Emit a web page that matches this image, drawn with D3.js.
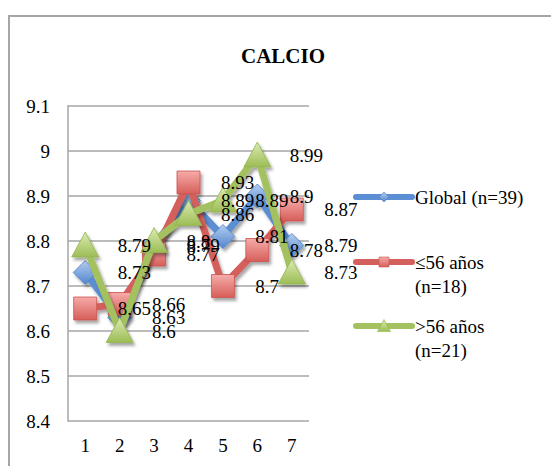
<!DOCTYPE html>
<html><head><meta charset="utf-8">
<script src="https://cdn.jsdelivr.net/npm/d3@7"></script>
</head>
<body style="margin:0;padding:0;background:#fff;">
<script>
const categories = ["1","2","3","4","5","6","7"];
const globalValues = [8.73, 8.63, 8.79, 8.89, 8.81, 8.9, 8.79];
const youngValues  = [8.65, 8.66, 8.77, 8.93, 8.7, 8.78, 8.87];
const oldValues    = [8.79, 8.6, 8.8, 8.86, 8.89, 8.99, 8.73];
const yTicks = [8.4, 8.5, 8.6, 8.7, 8.8, 8.9, 9, 9.1];
const yTickLabels = ["8.4","8.5","8.6","8.7","8.8","8.9","9","9.1"];
const seriesNames = ["Global (n=39)", "≤56 años (n=18)", ">56 años (n=21)"];
const legendLines = [["Global (n=39)"], ["≤56 años", "(n=18)"], [">56 años", "(n=21)"]];
const title = "CALCIO";

const FONT = '"Liberation Serif", "Times New Roman", Tinos, serif';
const W = 551, H = 466;
const svg = d3.select("body").append("svg").attr("width", W).attr("height", H)
  .style("display","block").style("font-family", FONT, "important");
const defs = svg.append("defs");

const styles = [
  {line:"#5B8ED2", top:"#B4CDF0", bot:"#5286CC", stroke:"#4A7EC2", shape:"diamond"},
  {line:"#D3605C", top:"#F6ACA9", bot:"#D65E5A", stroke:"#C9524E", shape:"square"},
  {line:"#A3C25F", top:"#DCEBB3", bot:"#9CBD55", stroke:"#92B44E", shape:"triangle"}
];
styles.forEach((s,i)=>{
  const g = defs.append("linearGradient").attr("id","grad"+i).attr("x1",0).attr("y1",0).attr("x2",0).attr("y2",1);
  g.append("stop").attr("offset","0%").attr("stop-color",s.top);
  g.append("stop").attr("offset","100%").attr("stop-color",s.bot);
});
const f = defs.append("filter").attr("id","shadow").attr("x","-30%").attr("y","-30%").attr("width","180%").attr("height","180%");
f.append("feDropShadow").attr("dx",2).attr("dy",3).attr("stdDeviation",1.8).attr("flood-color","#000").attr("flood-opacity",0.35);

function txt(sel, size, weight){
  return sel.attr("font-family", FONT).style("font-family", FONT, "important")
    .style("font-size", size+"px", "important")
    .style("font-weight", weight||"normal").style("fill","#000");
}

// outer border
svg.append("path").attr("d", `M9,${H+5} L9,16 L${W+5},16`).attr("fill","none").attr("stroke","#a6a6a6").attr("stroke-width",2);

// title
txt(svg.append("text").attr("x",283).attr("y",63).attr("text-anchor","middle"), 21, "bold").text(title);

const plot = {left:68, right:309, top:106, bottom:421};
const x = d3.scaleBand().domain(categories).range([plot.left, plot.right]);
const y = d3.scaleLinear().domain([8.4, 9.1]).range([plot.bottom, plot.top]);
const cx = c => x(c) + x.bandwidth()/2;

// gridlines
svg.append("g").selectAll("line").data(yTicks).join("line")
  .attr("x1",plot.left).attr("x2",plot.right)
  .attr("y1",d=>y(d)).attr("y2",d=>y(d))
  .attr("stroke","#a6a6a6").attr("stroke-width",1.5);
svg.append("line").attr("x1",plot.left).attr("x2",plot.left).attr("y1",plot.top-0.75).attr("y2",plot.bottom+0.75)
  .attr("stroke","#a6a6a6").attr("stroke-width",1.5);

// y axis labels
const yAxis = d3.axisLeft(y).tickValues(yTicks).tickFormat((d,i)=>yTickLabels[i]).tickSize(0).tickPadding(0);
const gy = svg.append("g").attr("transform","translate(50,0)").call(yAxis);
gy.attr("font-family", FONT);
gy.select(".domain").remove();
txt(gy.selectAll("text"), 19).attr("dy","0.36em");

// x axis labels
const xAxis = d3.axisBottom(x).tickSize(0).tickPadding(0);
const gx = svg.append("g").attr("transform","translate(0,438)").call(xAxis);
gx.attr("font-family", FONT);
gx.select(".domain").remove();
txt(gx.selectAll("text"), 19).attr("dy","0.35em").attr("y",7);

const allSeries = [globalValues, youngValues, oldValues];

function markerPath(shape, size){
  const h = size/2;
  if(shape==="square") return `M${-h},${-h}H${h}V${h}H${-h}Z`;
  if(shape==="diamond") return `M0,${-h}L${h},0L0,${h}L${-h},0Z`;
  return `M0,${-h}L${h},${h*0.85}L${-h},${h*0.85}Z`;
}
const markerSize = {square:23, diamond:24, triangle:27};

const line = d3.line().x((d,i)=>cx(categories[i])).y(d=>y(d));
allSeries.forEach((vals,si)=>{
  const s = styles[si];
  const g = svg.append("g").attr("filter","url(#shadow)");
  g.append("path").datum(vals).attr("d",line).attr("fill","none")
    .attr("stroke",s.line).attr("stroke-width",7).attr("stroke-linejoin","round");
  g.selectAll("path.m").data(vals).join("path").attr("class","m")
    .attr("transform",(d,i)=>`translate(${cx(categories[i])},${y(d)})`)
    .attr("d",markerPath(s.shape, markerSize[s.shape]))
    .attr("fill",`url(#grad${si})`).attr("stroke",s.stroke).attr("stroke-width",0.8);
});

// data labels
allSeries.forEach((vals,si)=>{
  txt(svg.append("g").selectAll("text").data(vals).join("text")
    .attr("x",(d,i)=>cx(categories[i]) + x.bandwidth() - 2)
    .attr("y",d=>y(d)).attr("dy","0.35em"), 19).text(d=>String(d));
});

// legend
const legY = [197, 262, 326];
legendLines.forEach((lines,i)=>{
  const s = styles[i];
  const g = svg.append("g");
  g.append("line").attr("x1",356).attr("x2",412).attr("y1",legY[i]).attr("y2",legY[i])
    .attr("stroke",s.line).attr("stroke-width",6).attr("stroke-linecap","round");
  g.append("path").attr("transform",`translate(384,${legY[i]})`)
    .attr("d",markerPath(s.shape, s.shape==="triangle"?13:10))
    .attr("fill",`url(#grad${i})`).attr("stroke",s.stroke).attr("stroke-width",0.6);
  lines.forEach((t,j)=>{
    txt(g.append("text").attr("x",415).attr("y",legY[i]+j*24).attr("dy","0.35em"), 19).text(t);
  });
});
</script>
</body></html>
